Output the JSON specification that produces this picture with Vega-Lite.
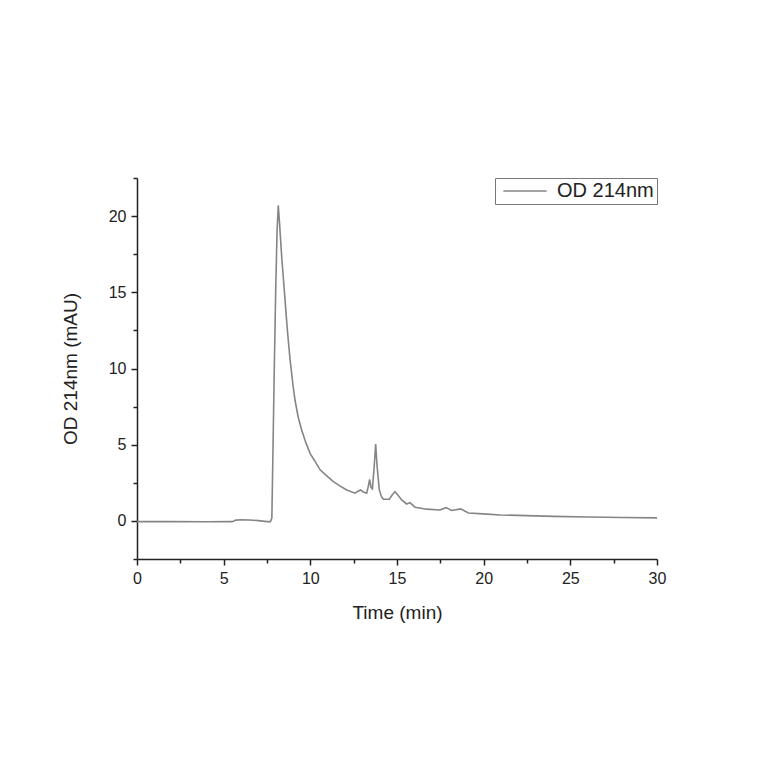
{
  "$schema": "https://vega.github.io/schema/vega-lite/v6.json",
  "width": 520,
  "height": 381,
  "autosize": "none",
  "padding": {"left": 137, "top": 178, "right": 107, "bottom": 205},
  "background": "white",
  "data": {
    "values": [
      {"t": 0, "v": -0.05}, {"t": 2, "v": -0.05}, {"t": 4, "v": -0.06}, {"t": 5.5, "v": -0.05},
      {"t": 5.7, "v": 0.05}, {"t": 6.0, "v": 0.08}, {"t": 6.5, "v": 0.06}, {"t": 7.0, "v": 0.02},
      {"t": 7.5, "v": -0.05}, {"t": 7.7, "v": -0.05}, {"t": 7.78, "v": 0.2}, {"t": 7.85, "v": 5},
      {"t": 7.92, "v": 10}, {"t": 8.0, "v": 15}, {"t": 8.08, "v": 19}, {"t": 8.15, "v": 20.7},
      {"t": 8.22, "v": 19.6}, {"t": 8.35, "v": 17.3}, {"t": 8.5, "v": 15.1}, {"t": 8.6, "v": 13.6},
      {"t": 8.7, "v": 12.2}, {"t": 8.83, "v": 10.6}, {"t": 9.0, "v": 8.9}, {"t": 9.12, "v": 7.9},
      {"t": 9.3, "v": 6.8}, {"t": 9.5, "v": 5.97}, {"t": 9.75, "v": 5.1}, {"t": 10.0, "v": 4.4},
      {"t": 10.25, "v": 3.95}, {"t": 10.56, "v": 3.35}, {"t": 11.0, "v": 2.9}, {"t": 11.33, "v": 2.58},
      {"t": 11.7, "v": 2.3}, {"t": 12.1, "v": 2.03}, {"t": 12.58, "v": 1.82}, {"t": 12.75, "v": 1.95},
      {"t": 12.9, "v": 2.03}, {"t": 13.05, "v": 1.9}, {"t": 13.25, "v": 1.82}, {"t": 13.35, "v": 2.3},
      {"t": 13.42, "v": 2.73}, {"t": 13.5, "v": 2.2}, {"t": 13.58, "v": 2.1}, {"t": 13.68, "v": 3.5},
      {"t": 13.77, "v": 5.05}, {"t": 13.85, "v": 3.6}, {"t": 13.98, "v": 2.03}, {"t": 14.1, "v": 1.6},
      {"t": 14.21, "v": 1.42}, {"t": 14.56, "v": 1.42}, {"t": 14.72, "v": 1.7}, {"t": 14.88, "v": 1.92},
      {"t": 15.05, "v": 1.7}, {"t": 15.27, "v": 1.38}, {"t": 15.56, "v": 1.11}, {"t": 15.75, "v": 1.2},
      {"t": 16.04, "v": 0.9}, {"t": 16.71, "v": 0.77}, {"t": 17.48, "v": 0.72}, {"t": 17.83, "v": 0.87},
      {"t": 18.15, "v": 0.68}, {"t": 18.67, "v": 0.79}, {"t": 19.12, "v": 0.52}, {"t": 19.98, "v": 0.46},
      {"t": 20.94, "v": 0.39}, {"t": 22, "v": 0.36}, {"t": 24, "v": 0.3}, {"t": 26, "v": 0.26},
      {"t": 28, "v": 0.22}, {"t": 30, "v": 0.2}
    ]
  },
  "layer": [
    {
      "mark": {"type": "line", "strokeWidth": 1.6, "clip": true},
      "encoding": {
        "x": {
          "field": "t", "type": "quantitative",
          "scale": {"domain": [0, 30], "nice": false, "zero": false},
          "axis": {"orient": "bottom", "values": [0, 5, 10, 15, 20, 25, 30], "tickSize": 6, "labelFlush": false, "title": "Time (min)", "titlePadding": 17}
        },
        "y": {
          "field": "v", "type": "quantitative",
          "scale": {"domain": [-2.5, 22.5], "nice": false, "zero": false},
          "axis": {"orient": "left", "values": [0, 5, 10, 15, 20], "tickSize": 6, "labelFlush": false, "title": "OD 214nm (mAU)", "titlePadding": 28}
        },
        "color": {
          "datum": "OD 214nm",
          "scale": {"range": ["#858585"]},
          "legend": {
            "title": null, "orient": "top-right", "offset": 0,
            "strokeColor": "#777777", "padding": 3,
            "symbolType": "M-2.5,0H2.5", "symbolSize": 300, "symbolStrokeWidth": 1.4, "symbolOffset": 17,
            "labelFontSize": 20, "labelOffset": 22, "labelColor": "#222222", "labelFont": "Liberation Sans"
          }
        }
      }
    },
    {
      "mark": {"type": "line", "opacity": 0},
      "encoding": {
        "x": {
          "field": "t", "type": "quantitative",
          "axis": {"orient": "bottom", "values": [2.5, 7.5, 12.5, 17.5, 22.5, 27.5], "tickSize": 4, "labels": false, "domain": false, "title": null}
        },
        "y": {
          "field": "v", "type": "quantitative",
          "axis": {"orient": "left", "values": [-2.5, 2.5, 7.5, 12.5, 17.5, 22.5], "tickSize": 4, "labels": false, "domain": false, "title": null}
        }
      }
    }
  ],
  "resolve": {"axis": {"x": "independent", "y": "independent"}},
  "config": {
    "view": {"stroke": null},
    "font": "Liberation Sans",
    "axis": {
      "grid": false,
      "domainColor": "#222222", "domainWidth": 1.5,
      "tickColor": "#222222", "tickWidth": 1.5,
      "labelFont": "Liberation Sans", "labelFontSize": 16, "labelColor": "#222222", "labelPadding": 5,
      "titleFont": "Liberation Sans", "titleFontSize": 19, "titleFontWeight": "normal", "titleColor": "#222222"
    }
  }
}
